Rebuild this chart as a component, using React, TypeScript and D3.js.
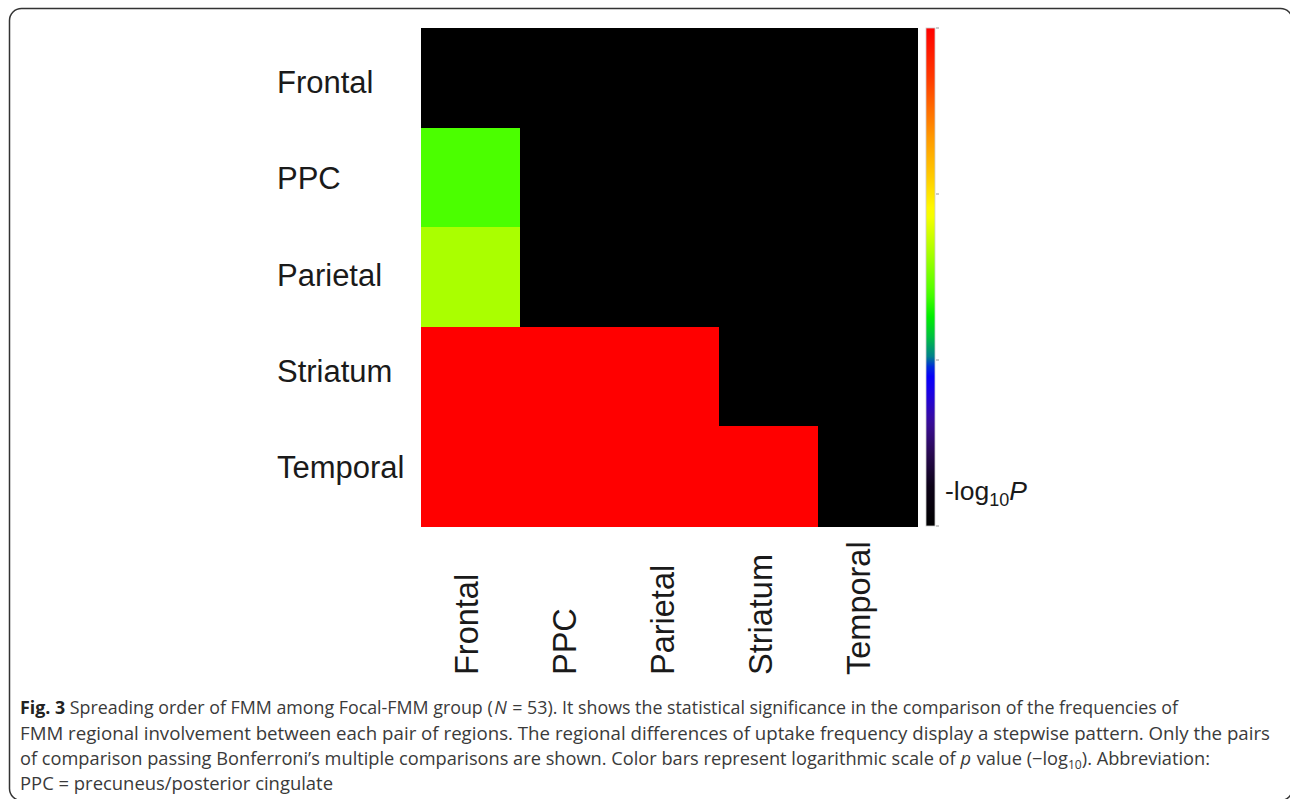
import React from "react";
import * as d3 from "d3";

const rowLabels = ["Frontal", "PPC", "Parietal", "Striatum", "Temporal"];
const colLabels = ["Frontal", "PPC", "Parietal", "Striatum", "Temporal"];

// -log10 P values, row = region in rows, col = region in columns (0 = not significant)
const frontalRow = [0, 0, 0, 0, 0];
const ppcRow = [1.4, 0, 0, 0, 0];
const parietalRow = [1.65, 0, 0, 0, 0];
const striatumRow = [3, 3, 3, 0, 0];
const temporalRow = [3, 3, 3, 3, 0];
const matrix = [frontalRow, ppcRow, parietalRow, striatumRow, temporalRow];

const colorbarTicks = [0, 1, 2, 3];
const valueDomain = [0, 3];

// colormap stops (fraction of colour bar -> colour)
const cmapStops = [0, 0.08, 0.15, 0.21, 0.27, 0.31, 0.34, 0.38, 0.42, 0.467, 0.55, 0.63, 0.7, 0.78, 0.9, 1];
const cmapColors = ["#000000", "#0d0318", "#2a0a55", "#3a0c9a", "#1a00e8", "#0000ff", "#00808c", "#00c040", "#00ee00", "#4cff00", "#aaff00", "#ffff00", "#ffcc00", "#ff9900", "#ff3a00", "#ff0000"];

const captionLines = [
  [
    { t: "Fig. 3", b: true },
    { t: " Spreading order of FMM among Focal-FMM group (" },
    { t: "N", i: true, dx: 1.5 },
    { t: " = 53). It shows the statistical significance in the comparison of the frequencies of", dx: 1 },
  ],
  [{ t: "FMM regional involvement between each pair of regions. The regional differences of uptake frequency display a stepwise pattern. Only the pairs" }],
  [
    { t: "of comparison passing Bonferroni\u2019s multiple comparisons are shown. Color bars represent logarithmic scale of " },
    { t: "p", i: true },
    { t: " value (\u2212log", dx: 1 },
    { t: "10", sub: true },
    { t: "). Abbreviation:" },
  ],
  [{ t: "PPC = precuneus/posterior cingulate" }],
];
const captionWidths = [1158, 1250, 1190, 313];

export default function App() {
  const W = 1290;
  const H = 799;
  const x0 = 421, x1 = 917, y0 = 28, y1 = 526;
  const xScale = d3.scaleBand<string>().domain(colLabels).range([x0, x1]).padding(0);
  const yScale = d3.scaleBand<string>().domain(rowLabels).range([y0, y1]).padding(0);
  const rowLabelY = d3.scalePoint<string>().domain(rowLabels).range([82, 467]);
  const colLabelX = d3.scalePoint<string>().domain(colLabels).range([466, 858]);

  const tScale = d3.scaleLinear().domain(valueDomain).range([0, 1]).clamp(true);
  const cmap = d3.scaleLinear<string>().domain(cmapStops).range(cmapColors).interpolate(d3.interpolateRgb);
  const color = (v: number) => cmap(tScale(v));

  const cbX = 926, cbW = 9;
  const cbY = d3.scaleLinear().domain(valueDomain).range([y1, y0]);

  const cells: { r: string; c: string; v: number }[] = [];
  matrix.forEach((row, i) => row.forEach((v, j) => cells.push({ r: rowLabels[i], c: colLabels[j], v })));

  const labelFont = "'Liberation Sans', Arial, Helvetica, sans-serif";
  const capFont = "'Open Sans', 'Noto Sans', sans-serif";
  const capY = [714, 740, 765, 790];

  return (
    <svg width={W} height={H} style={{ position: "absolute", left: 0, top: 0, background: "#fff" }}>
      <defs>
        <linearGradient id="cbgrad" x1="0" y1="1" x2="0" y2="0">
          {d3.range(0, 1.0001, 0.02).map((t) => (
            <stop key={t} offset={t} stopColor={cmap(t)} />
          ))}
        </linearGradient>
      </defs>
      <rect x={9.5} y={8.5} width={1283} height={792} rx={12} ry={12} fill="none" stroke="#333" strokeWidth={1.5} />

      {/* heatmap */}
      <g shapeRendering="crispEdges">
        {cells.map((d) => (
          <rect key={d.r + d.c} x={xScale(d.c)} y={yScale(d.r)} width={xScale.bandwidth() + 0.5} height={yScale.bandwidth() + 0.5} fill={color(d.v)} />
        ))}
      </g>

      {/* row labels */}
      {rowLabels.map((r) => (
        <text key={r} x={277} y={rowLabelY(r)} dy="0.36em" fontFamily={labelFont} fontSize={31} fill="#1a1a1a">
          {r}
        </text>
      ))}
      {/* column labels */}
      {colLabels.map((c) => (
        <text key={c} transform={`translate(${colLabelX(c)},675) rotate(-90)`} dy="0.36em" fontFamily={labelFont} fontSize={32.5} fill="#1a1a1a">
          {c}
        </text>
      ))}

      {/* colour bar */}
      <rect x={cbX} y={y0} width={cbW} height={y1 - y0} fill="url(#cbgrad)" stroke="#ccc" strokeWidth={0.8} />
      {colorbarTicks.map((t) => (
        <line key={t} x1={cbX + cbW + 1} x2={cbX + cbW + 4} y1={cbY(t)} y2={cbY(t)} stroke="#999" strokeWidth={1} />
      ))}
      <text x={945} y={500} fontFamily={labelFont} fontSize={26.5} fill="#1a1a1a">
        -log
        <tspan fontSize={18} dy={6}>10</tspan>
        <tspan dy={-6} fontStyle="italic">P</tspan>
      </text>

      {/* caption */}
      {captionLines.map((line, li) => (
        <text key={li} x={20} y={capY[li]} fontFamily={capFont} fontSize={18} fill="#3a3a3a" textLength={captionWidths[li]} lengthAdjust="spacingAndGlyphs">
          {line.map((s: any, si) => {
            if (s.sub) {
              return (
                <tspan key={si} fontSize={12} dy={4}>{s.t}</tspan>
              );
            }
            const prevSub = si > 0 && (line[si - 1] as any).sub;
            return (
              <tspan key={si} dx={s.dx || 0} dy={prevSub ? -4 : 0} fontWeight={s.b ? 700 : 400} fontStyle={s.i ? "italic" : "normal"} fill={s.b ? "#222" : undefined}>
                {s.t}
              </tspan>
            );
          })}
        </text>
      ))}
    </svg>
  );
}
